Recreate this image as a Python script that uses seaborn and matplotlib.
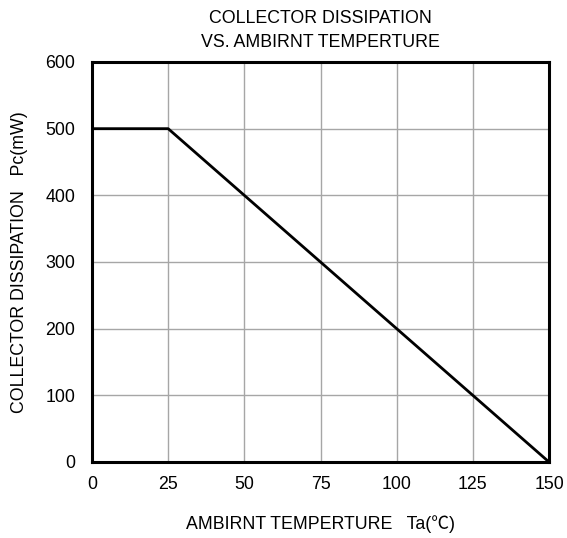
import matplotlib
matplotlib.use("Agg")
import matplotlib.pyplot as plt
import seaborn as sns
import pandas as pd

temperature = [0, 25, 150]
dissipation = [500, 500, 0]
x_ticks = [0, 25, 50, 75, 100, 125, 150]
y_ticks = [0, 100, 200, 300, 400, 500, 600]

sns.set_theme(style="white")
plt.rcParams['font.family'] = ['Liberation Sans', 'Noto Sans CJK JP', 'DejaVu Sans']

df = pd.DataFrame({"Ta": temperature, "Pc": dissipation})

fig = plt.figure(figsize=(5.67, 5.38), dpi=100)
ax = fig.add_axes([92/567, 76/538, 457/567, 400/538])
sns.lineplot(data=df, x="Ta", y="Pc", ax=ax, color="black", linewidth=2, zorder=3)

fs = 12.8
ax.set_xlim(0, 150)
ax.set_ylim(0, 600)
ax.set_xticks(x_ticks)
ax.set_yticks(y_ticks)
ax.grid(True, color="#a6a6a6", linewidth=1)
ax.set_axisbelow(True)
for s in ax.spines.values():
    s.set_color("black")
    s.set_linewidth(2.2)
ax.tick_params(axis="x", length=0, labelsize=fs, colors="black", pad=10)
ax.tick_params(axis="y", length=0, labelsize=fs, colors="black", pad=12)
ax.set_xlabel("AMBIRNT TEMPERTURE   Ta(℃)", fontsize=fs, color="black")
ax.set_ylabel("COLLECTOR DISSIPATION   Pc(mW)", fontsize=fs, color="black")
ax.xaxis.set_label_coords(0.5, -0.133)
ax.yaxis.set_label_coords(-0.14, 0.5)
ax.set_title("COLLECTOR DISSIPATION\nVS. AMBIRNT TEMPERTURE", fontsize=fs, pad=11, linespacing=1.55, color="black")

fig.savefig("out.png", dpi=100)
